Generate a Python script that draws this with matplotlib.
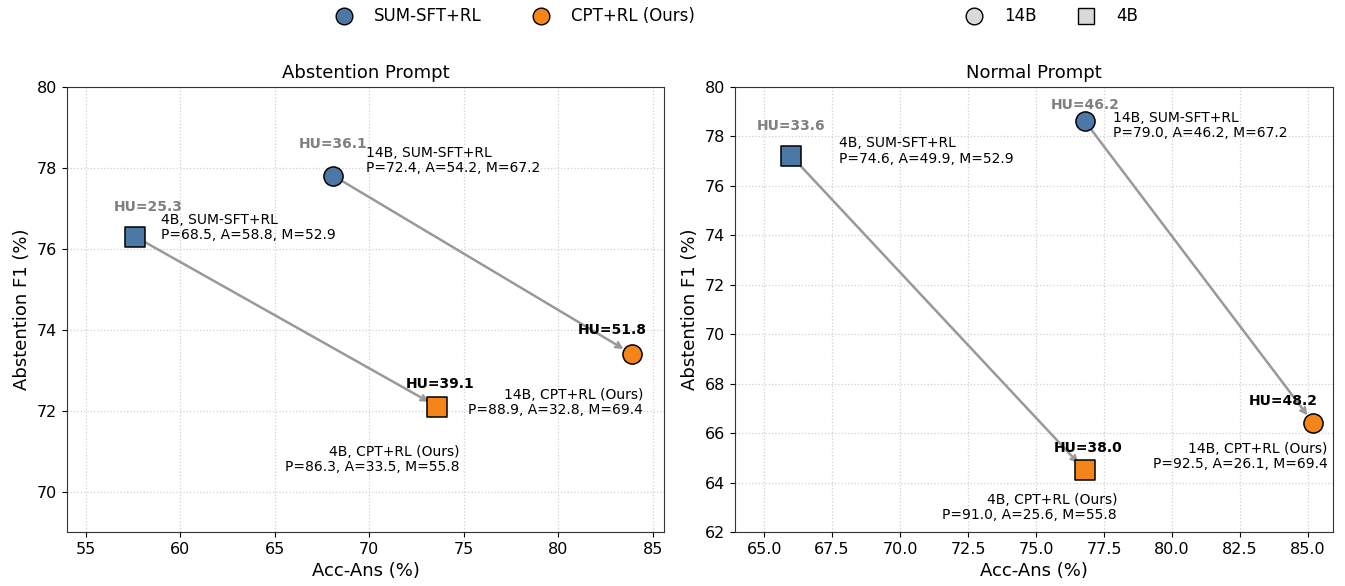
import matplotlib.pyplot as plt
from matplotlib.lines import Line2D

# data
models = ["4B, SUM-SFT+RL", "14B, SUM-SFT+RL", "4B, CPT+RL (Ours)", "14B, CPT+RL (Ours)"]
sizes = ["4B", "14B", "4B", "14B"]
methods = ["SUM-SFT+RL", "SUM-SFT+RL", "CPT+RL (Ours)", "CPT+RL (Ours)"]

abst_acc = [57.6, 68.1, 73.6, 83.9]
abst_f1 = [76.3, 77.8, 72.1, 73.4]
abst_hu = [25.3, 36.1, 39.1, 51.8]
abst_pam = [(68.5, 58.8, 52.9), (72.4, 54.2, 67.2), (86.3, 33.5, 55.8), (88.9, 32.8, 69.4)]

norm_acc = [66.0, 76.8, 76.8, 85.2]
norm_f1 = [77.2, 78.6, 64.5, 66.4]
norm_hu = [33.6, 46.2, 38.0, 48.2]
norm_pam = [(74.6, 49.9, 52.9), (79.0, 46.2, 67.2), (91.0, 25.6, 55.8), (92.5, 26.1, 69.4)]

colors = {"SUM-SFT+RL": "#4C78A8", "CPT+RL (Ours)": "#F58518"}
markers = {"14B": "o", "4B": "s"}

# label placement (offset in pixels): HU label, detail label, detail alignment
abst_layout = [((13, 30), (26, 9), "left"), ((0, 32), (33, 15), "left"),
               ((3, 23), (22, -53), "right"), ((-20, 24), (11, -49), "right")]
norm_layout = [((0, 30), (48, 5), "left"), ((0, 16), (28, -4), "left"),
               ((3, 22), (32, -37), "right"), ((-30, 22), (14, -33), "right")]

fig = plt.figure(figsize=(13.45, 5.86), dpi=100)
ax1 = fig.add_axes([0.0498, 0.092, 0.4439, 0.760])
ax2 = fig.add_axes([0.5465, 0.092, 0.4446, 0.760])


def draw(ax, acc, f1, hu, pam, layout, title, xlim, ylim):
    # arrows SUM -> CPT for the same size
    for a, b in [(0, 2), (1, 3)]:
        ax.annotate("", xy=(acc[b], f1[b]), xytext=(acc[a], f1[a]),
                    arrowprops=dict(arrowstyle="->", color="#999999", lw=1.8,
                                    shrinkA=8, shrinkB=7), zorder=2)
    for i in range(len(acc)):
        ax.scatter(acc[i], f1[i], s=200 if sizes[i] == "4B" else 190,
                   marker=markers[sizes[i]], color=colors[methods[i]],
                   edgecolor="black", linewidth=1.1, zorder=3)
        hu_off, txt_off, ha = layout[i]
        ours = methods[i] != "SUM-SFT+RL"
        ax.annotate(f"HU={hu[i]:.1f}", (acc[i], f1[i]), xytext=hu_off,
                    textcoords="offset pixels", ha="center", va="center",
                    fontsize=10, fontweight="bold",
                    color="black" if ours else "#808080", zorder=4)
        p, a_, m = pam[i]
        ax.annotate(f"{models[i]}\nP={p:.1f}, A={a_:.1f}, M={m:.1f}",
                    (acc[i], f1[i]), xytext=txt_off, textcoords="offset pixels",
                    ha=ha, va="center", fontsize=10, linespacing=1.1, zorder=4)
    ax.set_xlim(*xlim)
    ax.set_ylim(*ylim)
    ax.set_title(title, fontsize=13)
    ax.set_xlabel("Acc-Ans (%)", fontsize=13)
    ax.set_ylabel("Abstention F1 (%)", fontsize=13)
    ax.tick_params(labelsize=11.5)
    ax.grid(True, linestyle=":", color="#d0d0d0", linewidth=0.9)
    ax.set_axisbelow(True)
    for s in ax.spines.values():
        s.set_color("#333333")


draw(ax1, abst_acc, abst_f1, abst_hu, abst_pam, abst_layout,
     "Abstention Prompt", (54.0, 85.6), (69, 80))
draw(ax2, norm_acc, norm_f1, norm_hu, norm_pam, norm_layout,
     "Normal Prompt", (63.93, 85.92), (62, 80))

method_handles = [Line2D([], [], marker="o", linestyle="", markersize=12,
                         markerfacecolor=colors[m], markeredgecolor="black", label=m)
                  for m in ["SUM-SFT+RL", "CPT+RL (Ours)"]]
size_handles = [Line2D([], [], marker=markers[s], linestyle="", markersize=12,
                       markerfacecolor="#d9d9d9", markeredgecolor="black", label=s)
                for s in ["14B", "4B"]]
fig.legend(handles=method_handles, loc="center", bbox_to_anchor=(0.380, 0.972),
           ncol=2, frameon=False, fontsize=12, columnspacing=2.6, handletextpad=0.8)
fig.legend(handles=size_handles, loc="center", bbox_to_anchor=(0.779, 0.972),
           ncol=2, frameon=False, fontsize=12, columnspacing=2.0, handletextpad=0.8)

fig.savefig("out.png", dpi=100)
